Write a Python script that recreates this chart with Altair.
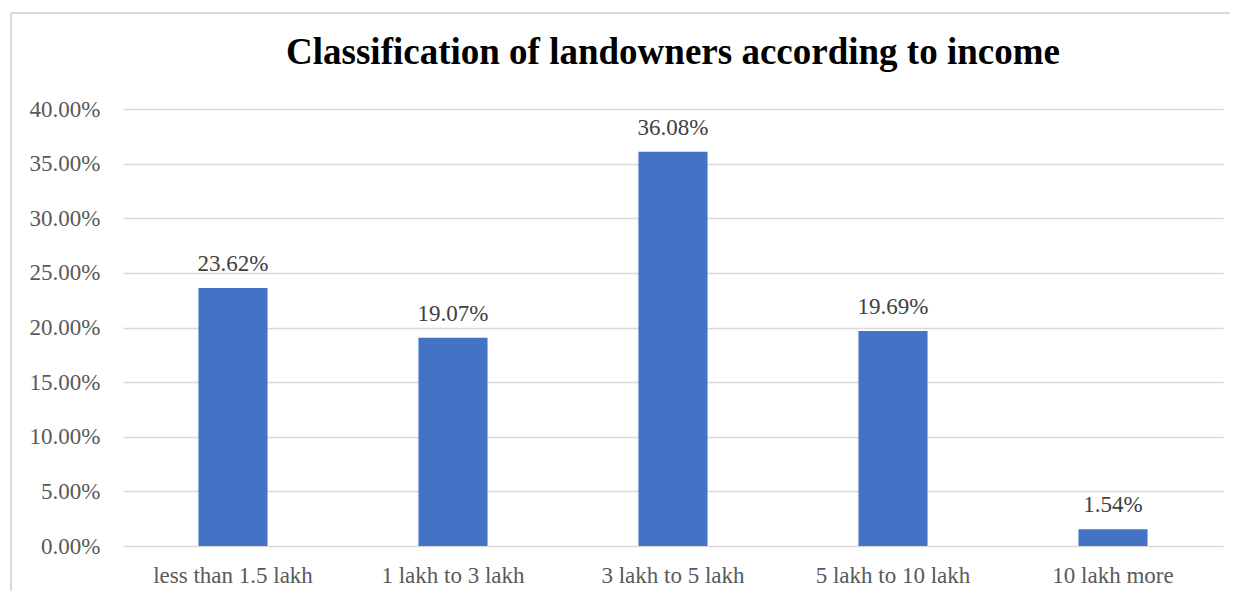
import altair as alt
import pandas as pd

categories = ["less than 1.5 lakh", "1 lakh to 3 lakh", "3 lakh to 5 lakh", "5 lakh to 10 lakh", "10 lakh more"]
values = [0.2362, 0.1907, 0.3608, 0.1969, 0.0154]

df = pd.DataFrame({"category": categories, "value": values})

FONT = "Liberation Serif"
W, H = 1100, 437

x = alt.X("category:N", sort=categories, title=None,
          scale=alt.Scale(paddingInner=0.686, paddingOuter=0.343),
          axis=alt.Axis(labelAngle=0, labelFont=FONT, labelFontSize=23, labelColor="#595959",
                        labelPadding=18, ticks=False, domain=False, grid=False))
y = alt.Y("value:Q", title=None,
          scale=alt.Scale(domain=[0, 0.4]),
          axis=alt.Axis(format=".2%", values=[0, 0.05, 0.1, 0.15, 0.2, 0.25, 0.3, 0.35, 0.4],
                        labelFont=FONT, labelFontSize=23, labelColor="#595959", labelPadding=23,
                        ticks=False, domain=False, grid=True, gridColor="#d9d9d9", gridWidth=1.5))

base = alt.Chart(df)
bars = base.mark_bar(color="#4472C4").encode(x=x, y=y)
labels = base.mark_text(font=FONT, fontSize=23, color="#404040", baseline="alphabetic", dy=-17).encode(
    x=alt.X("category:N", sort=categories), y="value:Q", text=alt.Text("value:Q", format=".2%"))

border_top = alt.Chart(df).mark_rule(color="#d9d9d9", strokeWidth=1.5).encode(
    x=alt.value(-112), x2=alt.value(1120), y=alt.value(-96))
border_left = alt.Chart(df).mark_rule(color="#d9d9d9", strokeWidth=1.5).encode(
    x=alt.value(-112), y=alt.value(-96), y2=alt.value(500))

chart = alt.layer(border_top, border_left, bars, labels).properties(
    width=W, height=H,
    title=alt.TitleParams("Classification of landowners according to income", font=FONT,
                          fontSize=37, fontWeight="bold", color="#000000", anchor="middle", offset=-60),
    autosize=alt.AutoSizeParams(type="none"),
    padding={"left": 115, "top": 101, "right": 7, "bottom": 45},
).configure_view(stroke=None)

chart.save("out.html", embed_options={"renderer": "svg", "actions": False})
